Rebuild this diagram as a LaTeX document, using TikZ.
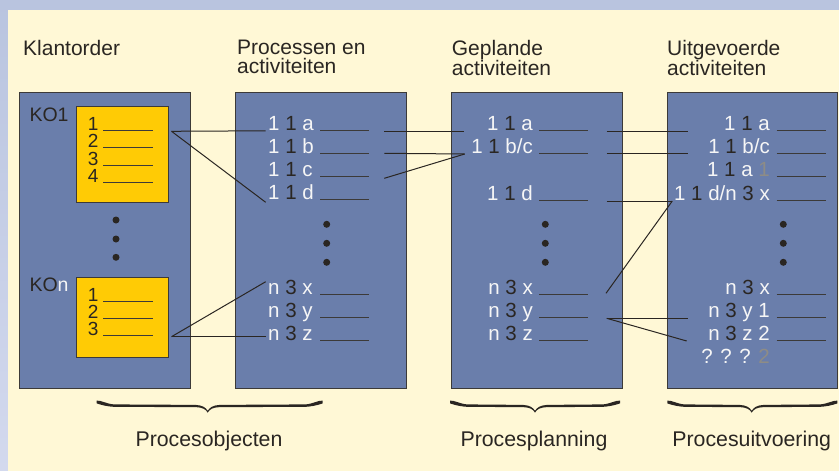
\documentclass[tikz,border=0pt]{standalone}
\usepackage{fontspec}
\setmainfont{Liberation Sans}
\definecolor{frameblue}{HTML}{B9C4DF}
\definecolor{frameblueb}{HTML}{D3D9EE}
\definecolor{cream}{HTML}{FFF8D6}
\definecolor{panelblue}{HTML}{6A7EAB}
\definecolor{boxyellow}{HTML}{FFCB05}
\definecolor{inkdark}{HTML}{2A2622}
\definecolor{inkwhite}{HTML}{F6F6F6}
\definecolor{inkgray}{HTML}{8E8C86}
\definecolor{edgegray}{HTML}{3C3A38}
% dark and grey characters inside the white row labels
\newcommand\dk[1]{\textcolor{inkdark}{#1}}
\newcommand\gy[1]{\textcolor{inkgray}{#1}}
% calligraphic curly brace opening downwards: left end, tip, right end
\newcommand\procbrace[3]{%
  \fill[inkdark]
    (#1,400.6) .. controls ({#1+5},400.4) and ({#1+9},403.6) .. ({#1+17},404.4)
    -- ({#2-12},404.9) .. controls ({#2-5},405.3) and ({#2-2},407.6) .. (#2,410.8)
    .. controls ({#2+2},407.6) and ({#2+5},405.3) .. ({#2+12},404.9)
    -- ({#3-17},404.4) .. controls ({#3-9},403.6) and ({#3-5},400.4) .. (#3,400.6)
    -- (#3,403.4) .. controls ({#3-6},405.4) and ({#3-11},406.6) .. ({#3-19},406.9)
    -- ({#2+12},407.1) .. controls ({#2+5},407.4) and ({#2+2},409.2) .. (#2,412.6)
    .. controls ({#2-2},409.2) and ({#2-5},407.4) .. ({#2-12},407.1)
    -- ({#1+19},406.9) .. controls ({#1+11},406.6) and ({#1+6},405.4) .. (#1,403.4)
    -- cycle;}
\begin{document}
\begin{tikzpicture}[x=1pt,y=-1pt,
  panel/.style={fill=panelblue,draw=edgegray,line width=1.2pt,anchor=north west,inner sep=0pt},
  orderbox/.style={fill=boxyellow,draw=edgegray,line width=1.1pt,anchor=north west,inner sep=0pt},
  head/.style={anchor=north west,inner sep=0pt,align=left,text=inkdark,
    font=\fontsize{21}{19}\selectfont},
  groupname/.style={anchor=base,inner sep=0pt,text=inkdark,font=\fontsize{21.3}{24}\selectfont},
  rowl/.style={anchor=base west,inner sep=0pt,text=inkwhite,font=\fontsize{20.5}{24}\selectfont},
  rowr/.style={rowl,anchor=base east},
  itemno/.style={anchor=base west,inner sep=0pt,text=inkdark,font=\fontsize{19}{20}\selectfont},
  orderid/.style={anchor=base west,inner sep=0pt,text=inkdark,font=\fontsize{19.5}{20}\selectfont},
  blank/.style={draw=edgegray,line width=1pt},
  link/.style={draw=inkdark,line width=1pt},
  dot/.style={fill=inkdark}
]
\useasboundingbox (0,0) rectangle (839,471);
% frame and background
\shade[top color=frameblue,bottom color=frameblueb] (0,0) rectangle (8,471);
\fill[frameblue] (0,0) rectangle (839,10);
\fill[cream] (8,10) rectangle (839,471);

% column headings
\node[head] (hklant) at (23,40.2) {Klantorder};
\node[head] (hproc) at (237,39.8) {Processen en\\activiteiten};
\node[head] (hplan) at (451.7,39.8) {Geplande\\activiteiten};
\node[head] (huitv) at (667,39.8) {Uitgevoerde\\activiteiten};

% the four columns
\node[panel,minimum width=171pt,minimum height=296.3pt] (klant) at (19,91.7) {};
\node[panel,minimum width=170.7pt,minimum height=296.3pt] (proc) at (235,91.7) {};
\node[panel,minimum width=171pt,minimum height=296.3pt] (plan) at (451,91.7) {};
\node[panel,minimum width=170pt,minimum height=296.3pt] (uitv) at (667,91.7) {};

% customer orders
\node[orderid] (ko1) at (29.3,121) {KO1};
\node[orderid] (kon) at (29.3,291.7) {KO\textcolor{inkwhite}{n}};
\node[orderbox,minimum width=92pt,minimum height=95.7pt] (ko1box) at (76,106) {};
\node[orderbox,minimum width=92pt,minimum height=80.3pt] (konbox) at (76,276.7) {};
\node[itemno] (k11) at (87.7,130) {1};
\node[itemno] (k12) at (87.7,147.3) {2};
\node[itemno] (k13) at (87.7,165) {3};
\node[itemno] (k14) at (87.7,182.3) {4};
\node[itemno] (kn1) at (87.7,301) {1};
\node[itemno] (kn2) at (87.7,318.3) {2};
\node[itemno] (kn3) at (87.7,335.7) {3};
\foreach \y in {130,147.3,165,182.3,301,318.3,335.7} \draw[blank] (103,\y) -- (153,\y);
\foreach \y in {220,239,257.3} \fill[dot] (116,\y) circle (3.5pt);

% processes and activities
\node[rowl] (pa) at (268,130.3) {1 \dk{1} a};
\node[rowl] (pb) at (268,153.7) {1 \dk{1} b};
\node[rowl] (pc) at (268,176.3) {1 \dk{1} c};
\node[rowl] (pd) at (268,199.7) {1 \dk{1} d};
\node[rowl] (px) at (268,294) {n \dk{3} x};
\node[rowl] (py) at (268,317.3) {n \dk{3} y};
\node[rowl] (pz) at (268,340.3) {n \dk{3} z};
\foreach \y in {130.3,153.7,176.3,199.7,294,317.3,340.3} \draw[blank] (320,\y) -- (369,\y);
\foreach \y in {224.3,243.3,262.3} \fill[dot] (326.7,\y) circle (3.5pt);

% planned activities
\node[rowr] (ga) at (533,130.3) {1 \dk{1} a};
\node[rowr] (gbc) at (533,153.7) {1 \dk{1} b/c};
\node[rowr] (gd) at (533,200) {1 \dk{1} d};
\node[rowr] (gx) at (533,294) {n \dk{3} x};
\node[rowr] (gy) at (533,317) {n \dk{3} y};
\node[rowr] (gz) at (533,340.3) {n \dk{3} z};
\foreach \y in {130.3,153.7,200,294,317,340.3} \draw[blank] (539,\y) -- (588.3,\y);
\foreach \y in {224.3,243.3,262.3} \fill[dot] (545.3,\y) circle (3.5pt);

% executed activities
\node[rowr] (ua) at (770,130.3) {1 \dk{1} a};
\node[rowr] (ubc) at (770,153.7) {1 \dk{1} b/c};
\node[rowr] (ua1) at (770,176.3) {1 \dk{1} a \gy{1}};
\node[rowr] (udx) at (770,200) {1 \dk{1} d/n \dk{3} x};
\node[rowr] (ux) at (770,294) {n \dk{3} x};
\node[rowr] (uy1) at (770,317.3) {n \dk{3} y 1};
\node[rowr] (uz2) at (770,340.3) {n \dk{3} z 2};
\node[rowr] (uq) at (770,363.5) {? ? ? \gy{2}};
\foreach \y in {130.3,153.7,176.3,200,294,317.3,340.3} \draw[blank] (776.7,\y) -- (825.7,\y);
\foreach \y in {224.3,243.3,262.3} \fill[dot] (783.3,\y) circle (3.5pt);

% connector end points
\coordinate (ko1out) at (171.5,131.3);
\coordinate (konout) at (171.5,336.7);
\coordinate (pain) at (265.7,130.8);
\coordinate (pdin) at (265.7,202.3);
\coordinate (pxin) at (265.7,281.7);
\coordinate (pzin) at (265.7,336.7);
\coordinate (paout) at (384.3,131.3);
\coordinate (pbout) at (384.3,153.3);
\coordinate (pcout) at (384.3,178.3);
\coordinate (gain) at (464,131.3);
\coordinate (gbcin) at (464.7,154);
\coordinate (gaout) at (606.7,131.3);
\coordinate (gbcout) at (606.7,153);
\coordinate (gdout) at (606.7,201);
\coordinate (gxout) at (606,293.3);
\coordinate (gyout) at (606.7,318.3);
\coordinate (uain) at (687.7,131.3);
\coordinate (ubcin) at (687.7,153);
\coordinate (udxin) at (672.3,201);
\coordinate (uy1in) at (687.7,318.3);
\coordinate (uz2in) at (686.7,341);

% connectors
\draw[link] (ko1out) -- (pain);
\draw[link] (ko1out) -- (pdin);
\draw[link] (konout) -- (pxin);
\draw[link] (konout) -- (pzin);
\draw[link] (paout) -- (gain);
\draw[link] (pbout) -- (gbcin);
\draw[link] (pcout) -- (gbcin);
\draw[link] (gaout) -- (uain);
\draw[link] (gbcout) -- (ubcin);
\draw[link] (gdout) -- (udxin);
\draw[link] (gxout) -- (udxin);
\draw[link] (gyout) -- (uy1in);
\draw[link] (gyout) -- (uz2in);

% groupings below the columns
\procbrace{96.7}{207.7}{322.7}
\procbrace{450}{535}{620}
\procbrace{667.3}{751.7}{837.4}
\node[groupname] (gobj) at (209,446.5) {Procesobjecten};
\node[groupname] (gplan) at (534,446.5) {Procesplanning};
\node[groupname] (guitv) at (751.7,446.5) {Procesuitvoering};
\end{tikzpicture}
\end{document}
